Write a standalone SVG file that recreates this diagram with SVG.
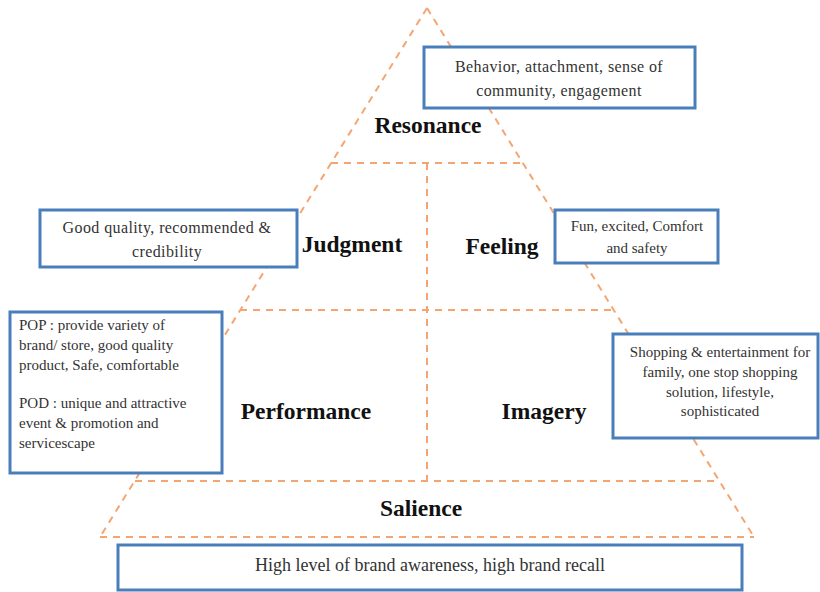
<svg xmlns="http://www.w3.org/2000/svg" width="820" height="592" viewBox="0 0 820 592">
<style>
.dash{stroke:#f4a672;stroke-width:2;stroke-dasharray:7 6;fill:none}
.box{fill:#ffffff;stroke:#4a7ebb;stroke-width:3}
.lbl{font-family:'Liberation Serif','Times New Roman','DejaVu Serif',serif;font-weight:bold;font-size:23.5px;fill:#111;text-anchor:middle}
.txt{font-family:'Liberation Serif','Times New Roman','DejaVu Serif',serif;font-size:15px;fill:#333}
.big{font-size:16px;letter-spacing:0.4px}
.c{text-anchor:middle}
</style>
<rect width="820" height="592" fill="#ffffff"/>
<g id="connectors">
<line class="dash" x1="427" y1="8" x2="100" y2="537"/>
<line class="dash" x1="427" y1="8" x2="754" y2="537"/>
<line class="dash" x1="331" y1="163" x2="523" y2="163"/>
<line class="dash" x1="240" y1="310" x2="614" y2="310"/>
<line class="dash" x1="135" y1="481" x2="719" y2="481"/>
<line class="dash" x1="100" y1="537" x2="754" y2="537"/>
<line class="dash" x1="427" y1="163" x2="427" y2="481"/>
</g>
<g id="resonance">
<text class="lbl" x="428" y="133">Resonance</text>
</g>
<g id="resonance-box">
<rect class="box" x="424" y="47" width="271" height="61"/>
<text class="txt big c" x="559" y="72">Behavior, attachment, sense of</text>
<text class="txt big c" x="559" y="96">community, engagement</text>
</g>
<g id="judgment">
<text class="lbl" x="352" y="252">Judgment</text>
</g>
<g id="judgment-box">
<rect class="box" x="40" y="210" width="257" height="57"/>
<text class="txt big c" x="167" y="233">Good quality, recommended &amp;</text>
<text class="txt big c" x="167" y="257">credibility</text>
</g>
<g id="feeling">
<text class="lbl" x="502" y="254">Feeling</text>
</g>
<g id="feeling-box">
<rect class="box" x="555" y="210" width="163" height="53"/>
<text class="txt c" x="637" y="231">Fun, excited, Comfort</text>
<text class="txt c" x="637" y="253">and safety</text>
</g>
<g id="performance">
<text class="lbl" x="306" y="419">Performance</text>
</g>
<g id="performance-box">
<rect class="box" x="10" y="312" width="212" height="161"/>
<text class="txt" x="19" y="330">POP : provide variety of</text>
<text class="txt" x="19" y="350">brand/ store, good quality</text>
<text class="txt" x="19" y="370">product, Safe, comfortable</text>
<text class="txt" x="19" y="408">POD : unique and attractive</text>
<text class="txt" x="19" y="428">event &amp; promotion and</text>
<text class="txt" x="19" y="448">servicescape</text>
</g>
<g id="imagery">
<text class="lbl" x="544" y="419">Imagery</text>
</g>
<g id="imagery-box">
<rect class="box" x="613" y="334" width="205" height="104"/>
<text class="txt c" x="720" y="357">Shopping &amp; entertainment for</text>
<text class="txt c" x="720" y="377">family, one stop shopping</text>
<text class="txt c" x="720" y="397">solution, lifestyle,</text>
<text class="txt c" x="720" y="416">sophisticated</text>
</g>
<g id="salience">
<text class="lbl" x="421" y="516">Salience</text>
</g>
<g id="salience-box">
<rect class="box" x="118" y="545" width="624" height="45"/>
<text class="txt c" x="430" y="571" style="font-size:18px">High level of brand awareness, high brand recall</text>
</g>
</svg>
